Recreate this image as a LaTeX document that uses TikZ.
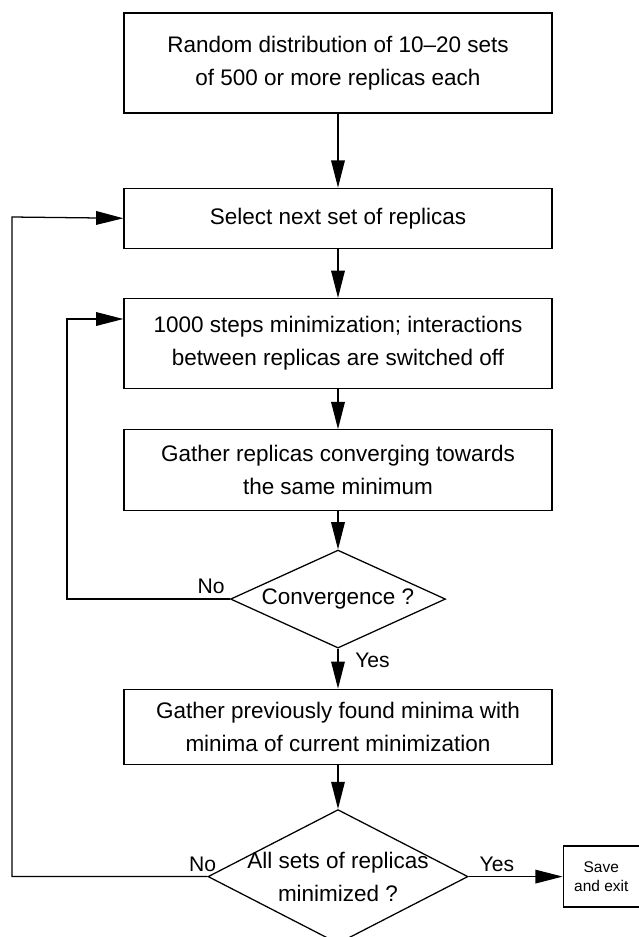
\documentclass[tikz,border=0pt]{standalone}
\usepackage{fontspec}
\setmainfont{Liberation Sans}
\usetikzlibrary{arrows.meta,positioning,shapes.geometric}
\tikzset{%
    >={Triangle[length=6.8mm,width=3.4mm]},
    every picture/.style={line width=0.9pt},
    stepbox/.style={rectangle,draw,minimum width=10.7cm,align=center,inner sep=0pt,font=\fontsize{16}{23.4}\selectfont},
    decision/.style={diamond,draw,inner sep=0pt},
    qtext/.style={align=center,font=\fontsize{16}{23.4}\selectfont},
    answer/.style={font=\fontsize{15}{18}\selectfont},
    endbox/.style={rectangle,draw,minimum width=1.9cm,minimum height=1.525cm,align=center,inner sep=0pt,font=\fontsize{11}{13.5}\selectfont}
}
\begin{document}
\begin{tikzpicture}[->,node distance=1cm]
    \useasboundingbox (0,0) rectangle (15.975,-23.425);
    \node [stepbox,minimum height=2.5cm] (random) at (8.45,-1.575) {Random distribution of 10--20 sets\\of 500 or more replicas each};
    \node [stepbox,minimum height=1.5cm,below=1.85cm of random] (select) {Select next set of replicas};
    \node [stepbox,minimum height=2.25cm,below=1.225cm of select] (minim) {1000 steps minimization; interactions\\between replicas are switched off};
    \node [stepbox,minimum height=2.025cm,below=of minim] (gather) {Gather replicas converging towards\\the same minimum};
    \node [decision,minimum width=5.375cm,minimum height=2.45cm,below=0.95cm of gather,label={[qtext]center:Convergence ?}] (conv) {};
    \node [stepbox,minimum height=1.875cm,below=of conv] (merge) {Gather previously found minima with\\minima of current minimization};
    \node [decision,minimum width=6.5cm,minimum height=3.35cm,below=1.1cm of merge,label={[qtext]center:All sets of replicas\\minimized ?}] (allsets) {};
    \node [endbox,right=2.35cm of allsets] (save) {Save\\and exit};
    \coordinate (loopa) at (1.675,-7.975);
    \coordinate (loopb) at (0.3,-5.425);
    %%%%%
    \path (random) edge (select)
    (select) edge (minim)
    (minim) edge (gather)
    (gather) edge (conv)
    (conv) edge node[answer,right=0.3cm,pos=0.3]{Yes} (merge)
    (merge) edge (allsets)
    (allsets) edge node[answer,above,pos=0.3]{Yes} (save);
    \draw (conv.west) node[answer,above left]{No} -| (loopa) -- (loopa -| minim.west);
    \draw (allsets.west) node[answer,above,xshift=-0.12cm]{No} -| (loopb) -- (select.west);
\end{tikzpicture}
\end{document}
